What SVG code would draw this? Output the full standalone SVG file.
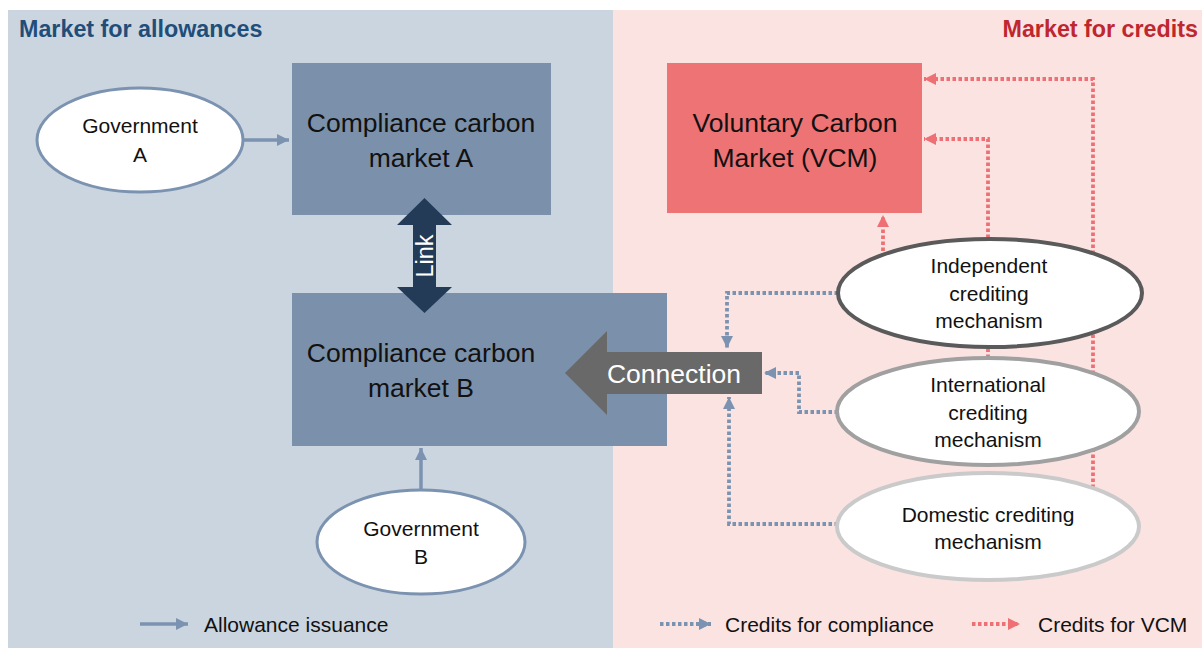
<svg xmlns="http://www.w3.org/2000/svg" width="1202" height="648" viewBox="0 0 1202 648">
<style>
.t{font-family:"Liberation Sans",Arial,sans-serif;fill:#111;text-anchor:middle}
.s{font-size:21px}
.b{font-size:26.5px}
.ttl{font-family:"Liberation Sans",Arial,sans-serif;font-weight:bold;font-size:23.3px}
.blue{fill:none;stroke:#7b93b0;stroke-width:3.8;stroke-dasharray:3.5 2.5}
.red{fill:none;stroke:#ee7074;stroke-width:3.8;stroke-dasharray:3.5 2.5}
.solid{fill:none;stroke:#7b93b0;stroke-width:3.5}
.leg{font-family:"Liberation Sans",Arial,sans-serif;font-size:21px;fill:#111}
</style>
<defs>
<marker id="ab" markerUnits="userSpaceOnUse" markerWidth="14" markerHeight="14" viewBox="0 0 14 14" refX="12" refY="7" orient="auto"><path d="M0,1 L12,7 L0,13 Z" fill="#7b93b0"/></marker>
<marker id="ar" markerUnits="userSpaceOnUse" markerWidth="14" markerHeight="14" viewBox="0 0 14 14" refX="12" refY="7" orient="auto"><path d="M0,1 L12,7 L0,13 Z" fill="#ee7074"/></marker>
</defs>
<rect x="0" y="0" width="1202" height="648" fill="#ffffff"/>
<rect x="8" y="10" width="605" height="638" fill="#cbd5df"/>
<rect x="613" y="10" width="589" height="638" fill="#fbe3e2"/>
<text class="ttl" x="19" y="37" fill="#1f4e7a">Market for allowances</text>
<text class="ttl" x="1198" y="37" fill="#c0262d" text-anchor="end">Market for credits</text>

<g id="connectors">
<path class="solid" d="M243,140 L289,140" marker-end="url(#ab)"/>
<path class="solid" d="M421,490 L421,448" marker-end="url(#ab)"/>
<path class="blue" d="M838,293 L727,293 L727,348" marker-end="url(#ab)"/>
<path class="blue" d="M838,412 L799,412 L799,373 L764,373" marker-end="url(#ab)"/>
<path class="blue" d="M838,524 L729,524 L729,397" marker-end="url(#ab)"/>
<path class="red" d="M883,257 L883,215" marker-end="url(#ar)"/>
<path class="red" d="M988,358 L988,139 L924,139" marker-end="url(#ar)"/>
<path class="red" d="M1093,488 L1093,79 L924,79" marker-end="url(#ar)"/>
</g>

<g id="govA">
<ellipse cx="140" cy="140" rx="103" ry="52" fill="#fff" stroke="#7b93b0" stroke-width="3"/>
<text class="t s" x="140" y="133">Government</text>
<text class="t s" x="140" y="162">A</text>
</g>
<g id="marketA">
<rect x="292" y="63" width="259" height="152" fill="#7b90aa"/>
<text class="t b" x="421" y="132">Compliance carbon</text>
<text class="t b" x="421" y="167">market A</text>
</g>
<g id="marketB">
<rect x="292" y="293" width="375" height="153" fill="#7b90aa"/>
<text class="t b" x="421" y="362">Compliance carbon</text>
<text class="t b" x="421" y="397">market B</text>
</g>
<g id="link">
<path d="M424.5,198 L452,225 L436,225 L436,287 L452,287 L424.5,313 L397,287 L413,287 L413,225 L397,225 Z" fill="#243b57"/>
<text class="t" transform="translate(433,256) rotate(-90)" x="0" y="0" style="font-size:23.5px;fill:#fff">Link</text>
</g>
<g id="connection">
<path d="M565,373 L607,331 L607,352 L762,352 L762,394 L607,394 L607,415 Z" fill="#696969"/>
<text class="t" x="674" y="383" style="font-size:26.5px;fill:#fff">Connection</text>
</g>
<g id="govB">
<ellipse cx="421" cy="542" rx="104" ry="52" fill="#fff" stroke="#7b93b0" stroke-width="3"/>
<text class="t s" x="421" y="536">Government</text>
<text class="t s" x="421" y="564">B</text>
</g>
<g id="vcm">
<rect x="667" y="63" width="255" height="150" fill="#ee7374"/>
<text class="t b" x="795" y="132">Voluntary Carbon</text>
<text class="t b" x="795" y="167">Market (VCM)</text>
</g>
<g id="independent">
<ellipse cx="990" cy="293" rx="152" ry="54" fill="#fff" stroke="#5a5a5a" stroke-width="4"/>
<text class="t s" x="989" y="273">Independent</text>
<text class="t s" x="989" y="301">crediting</text>
<text class="t s" x="989" y="328">mechanism</text>
</g>
<g id="international">
<ellipse cx="988" cy="411.5" rx="151" ry="53.5" fill="#fff" stroke="#a0a0a0" stroke-width="4"/>
<text class="t s" x="988" y="392">International</text>
<text class="t s" x="988" y="420">crediting</text>
<text class="t s" x="988" y="447">mechanism</text>
</g>
<g id="domestic">
<ellipse cx="988" cy="526.5" rx="151" ry="53.5" fill="#fff" stroke="#cacaca" stroke-width="4"/>
<text class="t s" x="988" y="522">Domestic crediting</text>
<text class="t s" x="988" y="549">mechanism</text>
</g>

<g id="legend">
<path class="solid" d="M140,624 L188,624" marker-end="url(#ab)"/>
<text class="leg" x="204" y="632">Allowance issuance</text>
<path class="blue" d="M660,624 L711,624" marker-end="url(#ab)"/>
<text class="leg" x="725" y="632">Credits for compliance</text>
<path class="red" d="M972,624 L1020,624" marker-end="url(#ar)"/>
<text class="leg" x="1038" y="632">Credits for VCM</text>
</g>
</svg>
